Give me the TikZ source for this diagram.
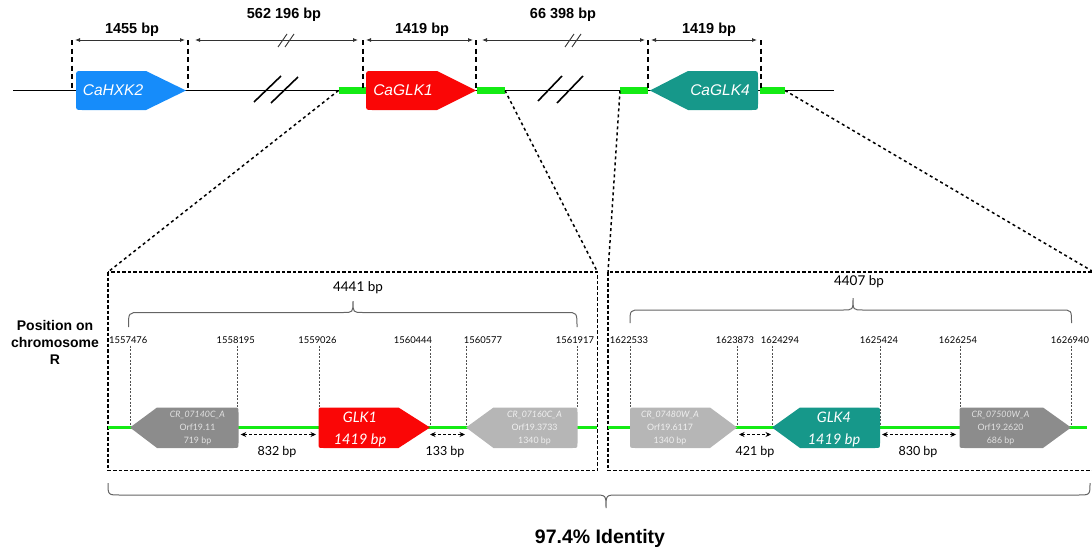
\documentclass[tikz,border=0pt]{standalone}
\usepackage{fontspec}
\setmainfont{Liberation Sans}
\newfontfamily\gill{Lato}
\usetikzlibrary{arrows.meta}
\definecolor{hxkblue}{RGB}{22,140,250}
\definecolor{glkred}{RGB}{250,6,6}
\definecolor{glkteal}{RGB}{22,152,138}
\definecolor{limeg}{RGB}{20,235,20}
\definecolor{dgray}{RGB}{140,140,140}
\definecolor{lgray}{RGB}{182,182,182}
\definecolor{dimgray}{RGB}{50,50,50}
\definecolor{bracegray}{RGB}{100,100,100}
\definecolor{tickgray}{RGB}{80,80,80}
\definecolor{dtext}{RGB}{225,225,225}
\definecolor{ltext}{RGB}{240,240,240}
\begin{document}
\begin{tikzpicture}[x=1pt,y=-1pt,
 mainline/.style={line width=1.9pt,black},
 greenbar/.style={line width=6.5pt,limeg},
 greenline/.style={line width=2.4pt,limeg},
 dimdash/.style={line width=2.6pt,black,dash pattern=on 5pt off 3.5pt},
 dimarrow/.style={line width=0.8pt,dimgray,{Latex[length=5pt,width=4pt]}-{Latex[length=5pt,width=4pt]}},
 breakmark/.style={line width=1.6pt,black},
 smallmark/.style={line width=0.9pt,dimgray},
 zoomline/.style={line width=1.5pt,black,dash pattern=on 3pt off 3pt},
 boxline/.style={line width=1.7pt,black,dash pattern=on 3.5pt off 2pt},
 tickline/.style={line width=0.6pt,tickgray,dash pattern=on 2pt off 1.5pt},
 gaparrow/.style={line width=1.3pt,black,dash pattern=on 3pt off 2pt,{Stealth[length=5.5pt,width=5pt]}-{Stealth[length=5.5pt,width=5pt]}},
 bracel/.style={line width=1pt,bracegray},
 toplabel/.style={font=\bfseries\fontsize{14.5}{17}\selectfont,inner sep=0pt},
 genelabel/.style={text=white,font=\itshape\fontsize{15.5}{18}\selectfont,inner sep=0pt},
 poslabel/.style={font=\gill\fontsize{9.4}{10}\selectfont,inner sep=0pt},
 smallgene/.style={align=center,font=\gill\fontsize{8.8}{13}\selectfont,inner sep=0pt},
 biggene/.style={align=center,text=white,font=\gill\itshape\fontsize{14.5}{22}\selectfont,inner sep=0pt},
 gaplabel/.style={font=\gill\fontsize{12.5}{14}\selectfont,inner sep=0pt},
 bplabel/.style={font=\gill\fontsize{13.5}{16}\selectfont,inner sep=0pt},
]
\useasboundingbox (0,0) rectangle (1092,554);

% ---------- top chromosome ----------
\coordinate (mainL) at (13,90.5);
\coordinate (mainR) at (834,90.5);
\draw[mainline] (mainL) -- (mainR);
\coordinate (g1a) at (338.5,90.5); \coordinate (g1b) at (366,90.5);
\coordinate (g2a) at (477,90.5);   \coordinate (g2b) at (505,90.5);
\coordinate (g3a) at (620,90.5);   \coordinate (g3b) at (648,90.5);
\coordinate (g4a) at (760,90.5);   \coordinate (g4b) at (785,90.5);
\draw[greenbar] (g1a) -- (g1b);
\draw[greenbar] (g2a) -- (g2b);
\draw[greenbar] (g3a) -- (g3b);
\draw[greenbar] (g4a) -- (g4b);

% break marks
\draw[breakmark] (254,102) -- (281,76);
\draw[breakmark] (271,103) -- (298,77);
\draw[breakmark] (538,101) -- (562,76);
\draw[breakmark] (557,103) -- (583,76);

% top genes
\fill[hxkblue] (186,90.5) -- (146,71) -- (82,71) .. controls (76,71) .. (76,77) -- (76,104) .. controls (76,110) .. (82,110) -- (146,110) -- cycle;
\fill[glkred] (476,90.5) -- (437,71) -- (372,71) .. controls (366,71) .. (366,77) -- (366,104) .. controls (366,110) .. (372,110) -- (437,110) -- cycle;
\fill[glkteal] (650,90.5) -- (688,71) -- (752,71) .. controls (758,71) .. (758,77) -- (758,104) .. controls (758,110) .. (752,110) -- (688,110) -- cycle;
\node[genelabel] (hxk2) at (113,90.5) {CaHXK2};
\node[genelabel] (glk1) at (403,90.5) {CaGLK1};
\node[genelabel] (glk4) at (720,90.5) {CaGLK4};

% dashed verticals
\foreach \xx/\nm in {72/d1,188/d2,363/d3,476/d4,648/d5,761/d6}{
  \coordinate (\nm t) at (\xx,40);
  \coordinate (\nm b) at (\xx,90.5);
  \draw[dimdash] (\nm t) -- (\nm b);
}

% dimension arrows
\coordinate (a1l) at (75,40);  \coordinate (a1r) at (185,40);
\coordinate (a2l) at (195,40); \coordinate (a2r) at (358,40);
\coordinate (a3l) at (366,40); \coordinate (a3r) at (473,40);
\coordinate (a4l) at (482,40); \coordinate (a4r) at (645,40);
\coordinate (a5l) at (651,40); \coordinate (a5r) at (757,40);
\draw[dimarrow] (a1l) -- (a1r);
\draw[dimarrow] (a2l) -- (a2r);
\draw[dimarrow] (a3l) -- (a3r);
\draw[dimarrow] (a4l) -- (a4r);
\draw[dimarrow] (a5l) -- (a5r);
\draw[smallmark] (278,47) -- (287,34);
\draw[smallmark] (285,47) -- (294,34);
\draw[smallmark] (565,47) -- (574,34);
\draw[smallmark] (572,47) -- (581,34);

\node[toplabel] (t1455) at (132,30) {1455 bp};
\node[toplabel] (t562) at (284,15) {562 196 bp};
\node[toplabel] (t1419a) at (422,30) {1419 bp};
\node[toplabel] (t66) at (563,15) {66 398 bp};
\node[toplabel] (t1419b) at (709,30) {1419 bp};

% ---------- zoom boxes ----------
\coordinate (b1tl) at (108,272); \coordinate (b1br) at (597.5,470.5);
\coordinate (b1tr) at (597.5,272);
\coordinate (b2tl) at (608,272); \coordinate (b2br) at (1094,470.5);
\coordinate (b2tr) at (1092,271);
\draw[zoomline] (g1a) -- (b1tl);
\draw[zoomline] (g2b) -- (b1tr);
\draw[zoomline] (g3a) -- (b2tl);
\draw[zoomline] (g4b) -- (b2tr);
\draw[boxline] (b1tl) rectangle (b1br);
\draw[boxline] (b2tl) rectangle (b2br);

% position label
\node[font=\bfseries\fontsize{14}{17}\selectfont,align=center,inner sep=0pt] (poschr) at (55,342) {Position on\\chromosome\\R};

% ticks and position numbers
\foreach \tx/\lx/\yb/\txt in {130/128.3/427.5/1557476, 237/235.8/407.5/1558195, 319/317.5/407.5/1559026, 430/413/427.5/1560444, 466/483/427.5/1560577, 577/575/407.5/1561917, 630/629/407.5/1622533, 737/735/427.5/1623873, 772/780/427.5/1624294, 880.5/879/427.5/1625424, 960/958/407.5/1626254, 1071.5/1070/427.5/1626940}{
  \node[poslabel] (p\txt) at (\lx,340) {\txt};
  \coordinate (q\txt) at (\tx,\yb);
  \draw[tickline] (p\txt.south -| q\txt) ++(0,2) -- (q\txt);
}

% green lines in boxes
\coordinate (lg1a) at (108,427.5); \coordinate (lg1b) at (597,427.5);
\coordinate (lg2a) at (608,427.5); \coordinate (lg2b) at (1087,427.5);
\draw[greenline] (lg1a) -- (lg1b);
\draw[greenline] (lg2a) -- (lg2b);

% lower genes
\fill[dgray] (130,427.5) -- (157,407.5) -- (233.5,407.5) .. controls (238.5,407.5) .. (238.5,412.5) -- (238.5,443) .. controls (238.5,448) .. (233.5,448) -- (157,448) -- cycle;
\fill[glkred] (430,427.5) -- (398.5,407.5) -- (323.5,407.5) .. controls (318.5,407.5) .. (318.5,412.5) -- (318.5,443) .. controls (318.5,448) .. (323.5,448) -- (398.5,448) -- cycle;
\fill[lgray] (466,427.5) -- (493.5,407.5) -- (572.5,407.5) .. controls (577.5,407.5) .. (577.5,412.5) -- (577.5,443) .. controls (577.5,448) .. (572.5,448) -- (493.5,448) -- cycle;
\fill[lgray] (737,427.5) -- (710,407.5) -- (635,407.5) .. controls (630,407.5) .. (630,412.5) -- (630,443) .. controls (630,448) .. (635,448) -- (710,448) -- cycle;
\fill[glkteal] (772,427.5) -- (800,407.5) -- (875,407.5) .. controls (880,407.5) .. (880,412.5) -- (880,443) .. controls (880,448) .. (875,448) -- (800,448) -- cycle;
\fill[dgray] (1071,427.5) -- (1043,407.5) -- (964.5,407.5) .. controls (959.5,407.5) .. (959.5,412.5) -- (959.5,443) .. controls (959.5,448) .. (964.5,448) -- (1043,448) -- cycle;

\node[smallgene,text=dtext] (cr140) at (197.5,428.5) {\itshape CR\_07140C\_A\\Orf19.11\\719 bp};
\node[smallgene,text=ltext] (cr160) at (534.5,428.5) {\itshape CR\_07160C\_A\\Orf19.3733\\1340 bp};
\node[smallgene,text=ltext] (cr480) at (670,428.5) {\itshape CR\_07480W\_A\\Orf19.6117\\1340 bp};
\node[smallgene,text=dtext] (cr500) at (1000.5,428.5) {\itshape CR\_07500W\_A\\Orf19.2620\\686 bp};
\node[biggene] (lglk1) at (360,429) {GLK1\\1419 bp};
\node[biggene] (lglk4) at (834,429) {GLK4\\1419 bp};

% gap arrows
\coordinate (ga1) at (240.7,434.5); \coordinate (gb1) at (316,434.5);
\coordinate (ga2) at (430,434.5);   \coordinate (gb2) at (465,434.5);
\coordinate (ga3) at (739,434.5);   \coordinate (gb3) at (771,434.5);
\coordinate (ga4) at (882,434.5);   \coordinate (gb4) at (956,434.5);
\draw[gaparrow] (ga1) -- (gb1);
\draw[gaparrow] (ga2) -- (gb2);
\draw[gaparrow] (ga3) -- (gb3);
\draw[gaparrow] (ga4) -- (gb4);
\node[gaplabel] (g832) at (277,451.5) {832 bp};
\node[gaplabel] (g133) at (445,451.5) {133 bp};
\node[gaplabel] (g421) at (755,451.5) {421 bp};
\node[gaplabel] (g830) at (918,451.5) {830 bp};

% braces
\draw[bracel] (128.5,327) .. controls (128.5,312.5) .. (140,312.5) -- (343,312.5) .. controls (353,312.5) .. (353,301) .. controls (353,312.5) .. (363,312.5) -- (566,312.5) .. controls (577,312.5) .. (577,327);
\draw[bracel] (630,323) .. controls (630,310) .. (641,310) -- (843,310) .. controls (853,310) .. (853,298) .. controls (853,310) .. (863,310) -- (1061,310) .. controls (1071.5,310) .. (1071.5,323);
\node[bplabel] (bp4441) at (358,288) {4441 bp};
\node[bplabel] (bp4407) at (859,282) {4407 bp};

\draw[bracel] (108,483) .. controls (108,495) .. (120,495) -- (594,495) .. controls (606,495) .. (606,508) .. controls (606,495) .. (618,495) -- (1078,495) .. controls (1090,495) .. (1090,483);
\node[font=\bfseries\fontsize{19.5}{22}\selectfont,inner sep=0pt] (ident) at (600,538) {97.4\% Identity};
\end{tikzpicture}
\end{document}
